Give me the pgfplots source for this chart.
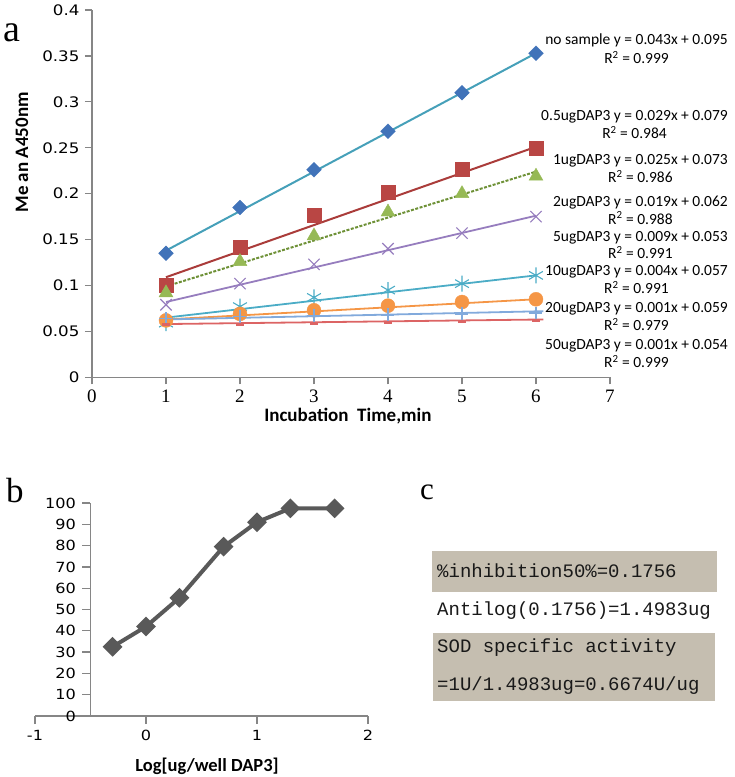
\documentclass[border=0pt]{standalone}
\usepackage{pgfplots}
\pgfplotsset{compat=1.18}
\usepackage{fontspec}
\setmainfont{Liberation Serif}
\newfontfamily\tickfont{DejaVu Sans}[FakeStretch=1.15]
\newfontfamily\calib{Carlito}
\newfontfamily\monof{Liberation Mono}
\newfontfamily\serfont{Liberation Serif}
\definecolor{axgray}{RGB}{134,134,134}
\definecolor{cBlueM}{RGB}{65,115,185}
\definecolor{cBlueL}{RGB}{70,160,185}
\definecolor{cRed}{RGB}{185,70,68}
\definecolor{cRedL}{RGB}{170,60,58}
\definecolor{cGreen}{RGB}{150,185,85}
\definecolor{cGreenL}{RGB}{110,145,55}
\definecolor{cPurple}{RGB}{150,125,190}
\definecolor{cCyan}{RGB}{75,172,198}
\definecolor{cOrange}{RGB}{245,150,70}
\definecolor{cLBlue}{RGB}{130,170,220}
\definecolor{cRed2}{RGB}{220,100,100}
\definecolor{bgray}{RGB}{89,89,89}
\definecolor{boxfill}{RGB}{197,190,176}
\begin{document}
\begin{tikzpicture}
\path[use as bounding box] (0pt,0pt) rectangle (735pt,-777pt);
% ---------------- panel a ----------------
\begin{axis}[
  at={(92pt,-377.3pt)}, anchor=south west,
  scale only axis, width=518pt, height=367.3pt,
  xmin=0, xmax=7, ymin=0, ymax=0.4,
  axis x line=bottom, axis y line=left,
  axis line style={-, axgray, line width=1.3pt},
  every tick/.style={axgray, line width=1.3pt},
  tick align=outside, major tick length=7pt,
  xtick={0,1,2,3,4,5,6,7}, xticklabels={0,1,2,3,4,5,6,7},
  ytick={0,0.05,0.1,0.15,0.2,0.25,0.3,0.35,0.4},
  yticklabels={0,0.05,0.1,0.15,0.2,0.25,0.3,0.35,0.4},
  xticklabel style={font=\serfont\fontsize{19}{19}\selectfont, yshift=-2pt},
  yticklabel style={font=\tickfont\fontsize{14.5}{15}\selectfont, xshift=-2pt},
  xlabel={Incubation\ \ Time,min},
  ylabel={Me an A450nm},
  xlabel style={font=\calib\bfseries\fontsize{19}{19}\selectfont, at={(axis description cs:0.494,-0.105)}, anchor=center},
  ylabel style={font=\calib\bfseries\fontsize{19}{19}\selectfont, at={(axis description cs:-0.135,0.6125)}, anchor=center},
  clip=false,
]
% trend lines
\addplot[cBlueL, line width=2pt] coordinates {(1,0.138) (6,0.353)};
\addplot[cRedL, line width=2pt] coordinates {(1,0.109) (6,0.251)};
\addplot[cGreenL, line width=2pt, dash pattern=on 3pt off 1.5pt] coordinates {(1,0.099) (6,0.224)};
\addplot[cPurple, line width=1.8pt] coordinates {(1,0.082) (6,0.176)};
\addplot[cCyan, line width=1.8pt] coordinates {(1,0.065) (6,0.111)};
\addplot[cOrange, line width=1.8pt] coordinates {(1,0.063) (6,0.085)};
\addplot[cLBlue, line width=1.8pt] coordinates {(1,0.063) (6.1,0.072)};
\addplot[cRed2, line width=1.8pt] coordinates {(1,0.058) (6.1,0.063)};
% data markers
\addplot[only marks, mark=square*, mark size=5.2pt, mark options={rotate=45}, cBlueM] coordinates {(1,0.135)(2,0.185)(3,0.226)(4,0.268)(5,0.310)(6,0.353)};
\addplot[only marks, mark=square*, mark size=7pt, cRed] coordinates {(1,0.100)(2,0.142)(3,0.176)(4,0.202)(5,0.227)(6,0.249)};
\addplot[only marks, mark=triangle*, mark size=8pt, cGreen] coordinates {(1,0.092)(2,0.126)(3,0.154)(4,0.180)(5,0.200)(6,0.219)};
\addplot[only marks, mark=x, mark size=8pt, cPurple, mark options={line width=1.1pt}] coordinates {(1,0.079)(2,0.102)(3,0.123)(4,0.140)(5,0.157)(6,0.175)};
\addplot[only marks, mark=asterisk, mark size=8pt, cCyan, mark options={line width=1.1pt}] coordinates {(1,0.059)(2,0.077)(3,0.087)(4,0.095)(5,0.102)(6,0.111)};
\addplot[only marks, mark=*, mark size=7pt, cOrange] coordinates {(1,0.062)(2,0.069)(3,0.073)(4,0.078)(5,0.082)(6,0.085)};
\addplot[only marks, mark=+, mark size=6.5pt, cLBlue, mark options={line width=1.5pt}] coordinates {(1,0.064)(2,0.066)(3,0.067)(4,0.068)(5,0.069)(6,0.070)};
\addplot[only marks, mark=-, mark size=4pt, cRed2, mark options={line width=3pt}] coordinates {(1,0.057)(2,0.058)(3,0.059)(4,0.060)(5,0.061)(6,0.062)};
\end{axis}
% ---------------- panel b ----------------
\begin{axis}[
  at={(35pt,-716pt)}, anchor=south west,
  scale only axis, width=333pt, height=213pt,
  xmin=-1, xmax=2, ymin=0, ymax=100,
  axis x line=bottom, axis y line=none,
  axis line style={-, axgray, line width=1.3pt},
  every tick/.style={axgray, line width=1.3pt},
  tick align=outside, major tick length=8pt,
  xtick={-1,0,1,2}, xticklabels={-1,0,1,2},
  xticklabel style={font=\tickfont\fontsize{14}{14}\selectfont, yshift=-3pt},
  xlabel={Log[ug/well DAP3]},
  ylabel={\%inhibition},
  xlabel style={font=\calib\bfseries\fontsize{18.5}{18.5}\selectfont, at={(axis description cs:0.5165,-0.235)}, anchor=center},
  ylabel style={font=\calib\bfseries\fontsize{18.5}{18.5}\selectfont, at={(axis description cs:-0.039,0.535)}, anchor=center},
  clip=false,
]
\addplot[bgray, line width=4pt, mark=square*, mark size=5pt, mark options={rotate=45}] coordinates {(-0.301,32.5)(0,42)(0.301,55.5)(0.699,79.5)(1,91)(1.301,97.5)(1.699,97.5)};
\end{axis}
\begin{axis}[
  at={(90.5pt,-716pt)}, anchor=south west,
  scale only axis, width=100pt, height=213pt,
  xmin=0, xmax=1, ymin=0, ymax=100,
  axis y line=left, axis x line=none,
  axis line style={-, axgray, line width=1.3pt},
  every tick/.style={axgray, line width=1.3pt},
  tick align=outside, major tick length=8pt,
  ytick={0,10,20,30,40,50,60,70,80,90,100},
  yticklabels={0,10,20,30,40,50,60,70,80,90,100},
  yticklabel style={font=\tickfont\fontsize{14}{14}\selectfont, xshift=-3pt},
]
\end{axis}
% ---------------- annotations ----------------
\begin{scope}[x=1pt,y=-1pt]
\node[font=\fontsize{38}{38}\selectfont, anchor=base west, inner sep=0] at (3,41) {a};
\node[font=\fontsize{35}{35}\selectfont, anchor=base west, inner sep=0] at (6,502) {b};
\node[font=\fontsize{31}{31}\selectfont, anchor=base west, inner sep=0] at (420,499) {c};
\begin{scope}[every node/.style={font=\calib\fontsize{15.5}{18.5}\selectfont, anchor=north east, align=center, inner sep=0}]
\node at (728,34) {no sample y = 0.043x + 0.095\\R\textsuperscript{2} = 0.999};
\node at (728,110) {0.5ugDAP3 y = 0.029x + 0.079\\R\textsuperscript{2} = 0.984};
\node at (728,154) {1ugDAP3 y = 0.025x + 0.073\\R\textsuperscript{2} = 0.986};
\node[font=\calib\fontsize{15.5}{17.5}\selectfont] at (728,196) {2ugDAP3 y = 0.019x + 0.062\\R\textsuperscript{2} = 0.988};
\node[font=\calib\fontsize{15.5}{17.5}\selectfont] at (728,231) {5ugDAP3 y = 0.009x + 0.053\\R\textsuperscript{2} = 0.991};
\node at (728,265) {10ugDAP3 y = 0.004x + 0.057\\R\textsuperscript{2} = 0.991};
\node at (728,302) {20ugDAP3 y = 0.001x + 0.059\\R\textsuperscript{2} = 0.979};
\node at (728,339) {50ugDAP3 y = 0.001x + 0.054\\R\textsuperscript{2} = 0.999};
\end{scope}
\fill[boxfill] (432,551) rectangle (717,592);
\fill[boxfill] (433,633) rectangle (715,701);
\begin{scope}[every node/.style={font=\monof\fontsize{19}{19}\selectfont, anchor=base west, inner sep=0, text=black!90}]
\node at (437,577) {\%inhibition50\%=0.1756};
\node at (437,615) {Antilog(0.1756)=1.4983ug};
\node at (437,652) {SOD specific activity};
\node at (437,690) {=1U/1.4983ug=0.6674U/ug};
\end{scope}
\end{scope}
\end{tikzpicture}
\end{document}
